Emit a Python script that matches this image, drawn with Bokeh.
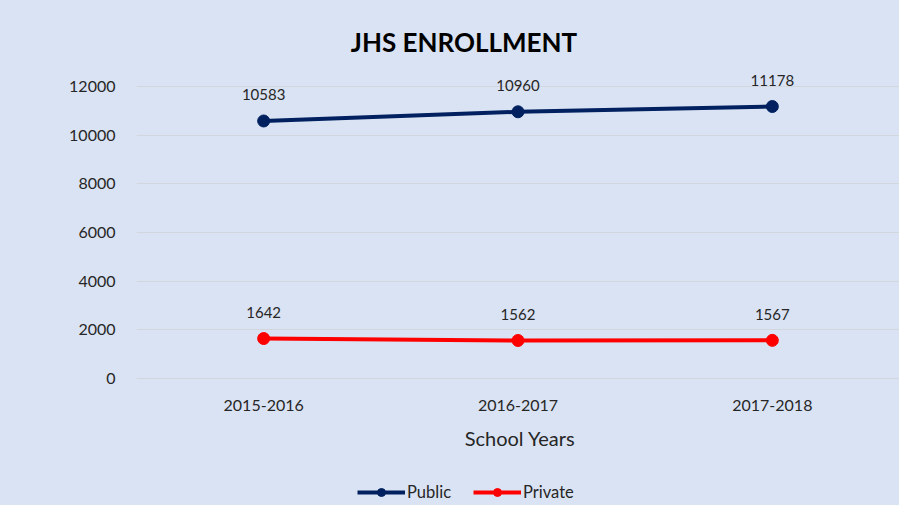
from bokeh.plotting import figure
from bokeh.models import (Range1d, FactorRange, ColumnDataSource, LabelSet,
                          Legend, LegendItem, FixedTicker)
from bokeh.core.properties import value
from bokeh.embed import file_html
from bokeh.resources import INLINE

years = ["2015-2016", "2016-2017", "2017-2018"]
public = [10583, 10960, 11178]
private = [1642, 1562, 1567]
y_ticks = [0, 2000, 4000, 6000, 8000, 10000, 12000]
title_text = "JHS ENROLLMENT"
x_title = "School Years"

FONT = "Lato"
BG = "#dae3f3"
TXT = "#262626"

# vertical scale: 12000 units over 292 px, gridline 12000 at 86 px from the top
k = 292 / 12000
H = 505
y_top = 12000 + 86 / k
y_bot = 12000 - (H - 86) / k

p = figure(width=899, height=H, x_range=FactorRange(*years), y_range=Range1d(y_bot, y_top),
           output_backend="svg", toolbar_location=None,
           min_border_left=136, min_border_right=0, min_border_top=0, min_border_bottom=0)
p.styles = {"background-color": BG}
p.background_fill_color = BG
p.border_fill_color = BG
p.outline_line_color = None

p.ygrid.grid_line_color = "#d2d6dd"
p.xgrid.grid_line_color = None
p.yaxis.ticker = FixedTicker(ticks=y_ticks)
p.yaxis.axis_line_color = None
p.yaxis.major_tick_line_color = None
p.yaxis.minor_tick_line_color = None
p.yaxis.major_label_text_font = FONT
p.yaxis.major_label_text_color = TXT
p.yaxis.major_label_text_font_size = "16px"
p.yaxis.major_label_standoff = 15
p.xaxis.visible = False

src = ColumnDataSource(dict(x=years, pub=public, pri=private, zero=[0] * len(years),
                            pub_t=[str(v) for v in public], pri_t=[str(v) for v in private]))

l1 = p.line("x", "pub", source=src, line_color="#002060", line_width=4)
c1 = p.scatter("x", "pub", source=src, size=12, fill_color="#002060", line_color="#002060")
l2 = p.line("x", "pri", source=src, line_color="#ff0000", line_width=4)
c2 = p.scatter("x", "pri", source=src, size=12, fill_color="#ff0000", line_color="#ff0000")

for col, txt in (("pub", "pub_t"), ("pri", "pri_t")):
    p.add_layout(LabelSet(x="x", y=col, text=txt, source=src, y_offset=26,
                          text_align="center", text_baseline="middle",
                          text_font=value(FONT), text_font_size="15px", text_color=TXT))

# category labels under the plot
p.add_layout(LabelSet(x="x", y="zero", text="x", source=src, y_offset=-27,
                      text_align="center", text_baseline="middle",
                      text_font=value(FONT), text_font_size="16px", text_color=TXT))

p.add_layout(LabelSet(x="x", y="y", text="t", source=ColumnDataSource(dict(
    x=[years[1]], y=[y_ticks[-1]], t=[title_text])), x_offset=-54, y_offset=45,
    text_align="center", text_baseline="middle",
    text_font=value(FONT), text_font_size="26px", text_font_style="bold", text_color="#000000"))
p.add_layout(LabelSet(x="x", y="y", text="t", source=ColumnDataSource(dict(
    x=[years[1]], y=[y_ticks[0]], t=[x_title])), x_offset=2, y_offset=-59,
    text_align="center", text_baseline="middle",
    text_font=value(FONT), text_font_size="20px", text_color=TXT))

legend = Legend(items=[LegendItem(label="Public", renderers=[l1, c1]),
                       LegendItem(label="Private", renderers=[l2, c2])],
                orientation="horizontal", location=(221, 3),
                background_fill_alpha=0, border_line_alpha=0,
                label_text_font=FONT, label_text_font_size="16.5px", label_text_color=TXT,
                glyph_width=48, glyph_height=20, label_standoff=2, spacing=22, padding=0, margin=0)
p.add_layout(legend, "center")

open("out.html", "w").write(file_html(p, INLINE))
